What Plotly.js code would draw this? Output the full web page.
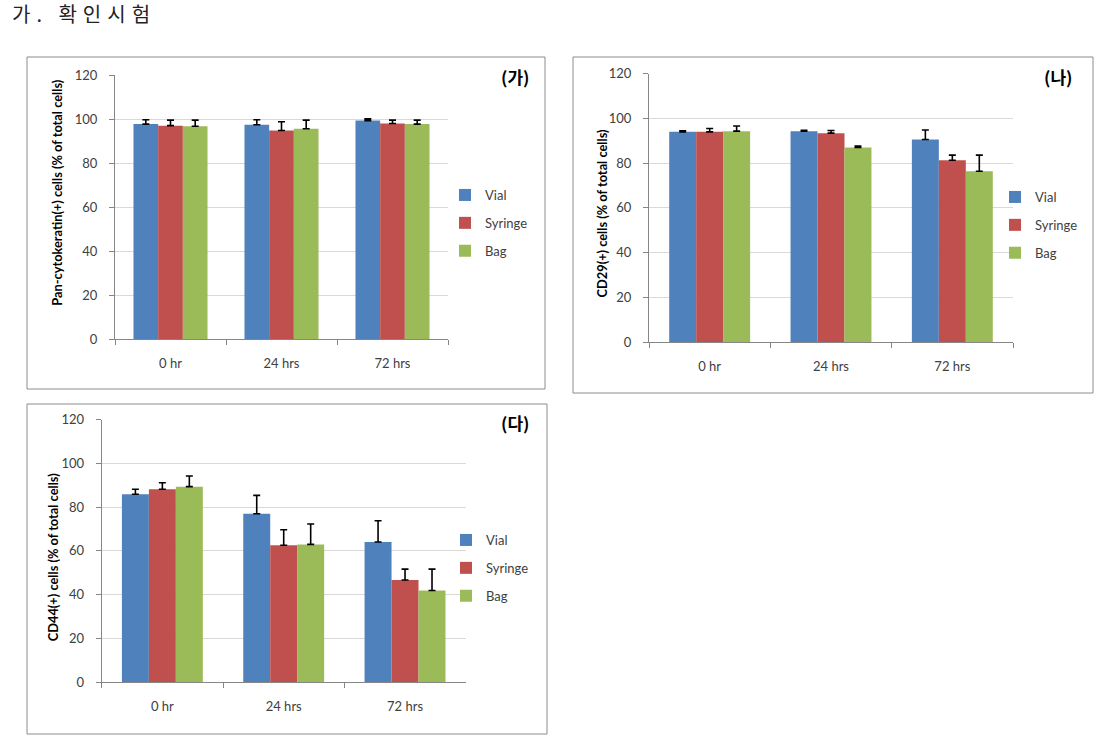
<!DOCTYPE html>
<html>
<head>
<meta charset="utf-8">
<script src="https://cdn.plot.ly/plotly-3.0.1.min.js"></script>
<style>
  html, body { margin: 0; padding: 0; background: #ffffff; }
  #chart { width: 1100px; height: 742px; }
  .gtitle { letter-spacing: 6px; }
</style>
</head>
<body>
<div id="chart"></div>
<script>
// ---- data ----
const categories = ['0 hr', '24 hrs', '72 hrs'];
const seriesNames = ['Vial', 'Syringe', 'Bag'];
const panelLabels = ['(가)', '(나)', '(다)'];
const yTitles = ['Pan-cytokeratin(+) cells (% of total cells)', 'CD29(+) cells (% of total cells)', 'CD44(+) cells (% of total cells)'];
const yTicks = [0, 20, 40, 60, 80, 100, 120];

// Panel (가) Pan-cytokeratin
const vialA = [97.7, 97.4, 99.3];
const syringeA = [97.0, 94.8, 98.0];
const bagA = [96.7, 95.6, 97.7];
const vialAErr = [2.0, 2.3, 0.8];
const syringeAErr = [2.5, 4.0, 1.5];
const bagAErr = [2.8, 3.9, 1.8];

// Panel (나) CD29
const vialB = [94.0, 94.3, 90.6];
const syringeB = [94.0, 93.4, 81.3];
const bagB = [94.3, 87.0, 76.4];
const vialBErr = [0.5, 0.4, 4.2];
const syringeBErr = [1.5, 1.2, 2.3];
const bagBErr = [2.3, 0.6, 7.2];

// Panel (다) CD44
const vialC = [85.8, 76.9, 64.0];
const syringeC = [88.1, 62.5, 46.6];
const bagC = [89.3, 62.9, 41.8];
const vialCErr = [2.3, 8.4, 9.7];
const syringeCErr = [3.0, 7.1, 5.0];
const bagCErr = [4.9, 9.3, 9.8];

// ---- styling ----
const W = 1100, H = 742;
const colors = ['#4F81BD', '#C0504D', '#9BBB59'];
const tickFont = { family: 'Lato, "Liberation Sans", sans-serif', size: 13, color: '#404040' };
const px = v => v / W;
const py = v => 1 - v / H;

const panels = [
  { vals: [vialA, syringeA, bagA], errs: [vialAErr, syringeAErr, bagAErr], xa: 'x', ya: 'y', leg: 'legend',
    xdom: [px(115), px(448)], ydom: [py(339.3), py(75)], box: [27, 57, 545, 389],
    label: [515, 76.5], ytitle: [56.7, 193], legPos: [445, 180] },
  { vals: [vialB, syringeB, bagB], errs: [vialBErr, syringeBErr, bagBErr], xa: 'x2', ya: 'y2', leg: 'legend2',
    xdom: [px(649), px(1013)], ydom: [py(342), py(73.7)], box: [573, 57, 1093, 393],
    label: [1058, 76.5], ytitle: [601.7, 213.7], legPos: [995, 182] },
  { vals: [vialC, syringeC, bagC], errs: [vialCErr, syringeCErr, bagCErr], xa: 'x3', ya: 'y3', leg: 'legend3',
    xdom: [px(101.7), px(465.7)], ydom: [py(682), py(419.5)], box: [27, 404, 547, 734],
    label: [515, 422], ytitle: [52.7, 557.5], legPos: [446, 525] }
];

const traces = [];
const shapes = [];
const annotations = [];
const layout = {
  width: W, height: H,
  margin: { l: 0, r: 0, t: 0, b: 0 },
  paper_bgcolor: '#ffffff', plot_bgcolor: '#ffffff',
  barmode: 'group', bargap: 0.333, bargroupgap: 0,
  showlegend: true,
  title: {
    text: '가. 확인시험',
    font: { family: '"Noto Sans CJK KR", sans-serif', size: 20, color: '#222222' },
    x: px(12), xref: 'paper', xanchor: 'left',
    y: py(15), yref: 'paper', yanchor: 'middle'
  }
};

panels.forEach((p, pi) => {
  seriesNames.forEach((name, si) => {
    traces.push({
      type: 'bar', name: name,
      x: categories, y: p.vals[si],
      xaxis: p.xa, yaxis: p.ya,
      legend: p.leg, legendgroup: 'p' + pi + 's' + si,
      marker: { color: colors[si], line: { width: 0 } },
      error_y: { type: 'data', symmetric: false, array: p.errs[si], arrayminus: p.errs[si].map(() => 0),
                 color: '#000000', thickness: 1.6, width: 3.5 },
      hoverinfo: 'x+y+name'
    });
  });
  const sfx = pi === 0 ? '' : String(pi + 1);
  layout['xaxis' + sfx] = {
    domain: p.xdom, anchor: 'y' + sfx, type: 'category',
    showline: true, linecolor: '#868686', linewidth: 1,
    ticks: 'outside', ticklen: 5, tickcolor: '#868686', tickson: 'boundaries',
    ticklabelstandoff: 12,
    showgrid: false, zeroline: false, tickfont: tickFont, fixedrange: true
  };
  layout['yaxis' + sfx] = {
    domain: p.ydom, anchor: 'x' + sfx, range: [0, 120], tickvals: yTicks,
    showline: true, linecolor: '#868686', linewidth: 1,
    ticks: 'outside', ticklen: 5, tickcolor: '#868686',
    ticklabelstandoff: 9,
    showgrid: true, gridcolor: '#d9d9d9', gridwidth: 1, zeroline: false,
    tickfont: tickFont, fixedrange: true
  };
  layout[p.leg] = {
    x: px(p.legPos[0]), y: py(p.legPos[1]), xref: 'paper', yref: 'paper',
    xanchor: 'left', yanchor: 'top',
    bgcolor: 'rgba(0,0,0,0)', borderwidth: 0,
    font: { family: 'Lato, "Liberation Sans", sans-serif', size: 13, color: '#404040' },
    traceorder: 'grouped', tracegroupgap: 8, itemwidth: 30
  };
  shapes.push({
    type: 'rect', xref: 'paper', yref: 'paper', layer: 'below',
    x0: px(p.box[0]), x1: px(p.box[2]), y0: py(p.box[3]), y1: py(p.box[1]),
    line: { color: '#8c8c8c', width: 1 }, fillcolor: 'rgba(0,0,0,0)'
  });
  annotations.push({
    text: '<b>' + panelLabels[pi] + '</b>', xref: 'paper', yref: 'paper',
    x: px(p.label[0]), y: py(p.label[1]), xanchor: 'center', yanchor: 'middle',
    showarrow: false, font: { family: '"Noto Sans CJK KR", sans-serif', size: 17, color: '#000000' }
  });
  annotations.push({
    text: '<b>' + yTitles[pi] + '</b>', xref: 'paper', yref: 'paper', textangle: -90,
    x: px(p.ytitle[0]), y: py(p.ytitle[1]), xanchor: 'center', yanchor: 'middle',
    showarrow: false, font: { family: 'Lato, "Liberation Sans", sans-serif', size: 12.8, color: '#000000' }
  });
});

layout.shapes = shapes;
layout.annotations = annotations;

Plotly.newPlot('chart', traces, layout, { displayModeBar: false, staticPlot: false });
</script>
</body>
</html>
